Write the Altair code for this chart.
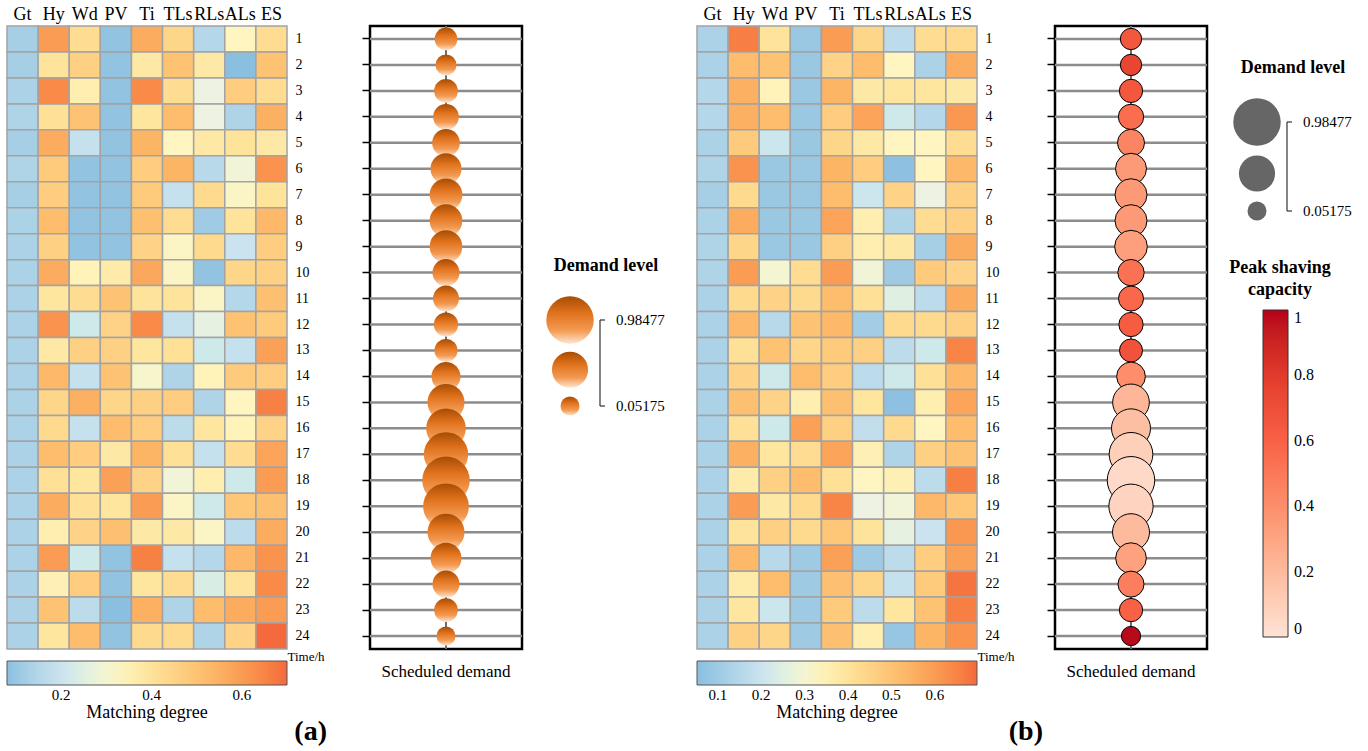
import altair as alt
import pandas as pd

SERIF = "Liberation Serif"

hours = list(range(1, 25))
sources = ["Gt", "Hy", "Wd", "PV", "Ti", "TLs", "RLs", "ALs", "ES"]

# ---------- panel (a): matching degree, one list per source (hours 1..24)
gt_a = [.12, .12, .13, .14, .12, .14, .12, .13, .13, .13, .13, .13, .13, .13, .13, .13, .13, .13, .13, .13, .13, .13, .13, .13]
hy_a = [.60, .40, .64, .41, .56, .48, .47, .52, .46, .56, .39, .62, .38, .53, .44, .43, .52, .41, .56, .36, .60, .35, .50, .39]
wd_a = [.42, .46, .36, .50, .19, .09, .09, .09, .09, .34, .42, .22, .46, .19, .55, .19, .47, .39, .41, .45, .22, .47, .17, .52]
pv_a = [.09, .09, .09, .09, .09, .09, .09, .09, .09, .37, .50, .45, .46, .50, .44, .52, .38, .59, .39, .51, .09, .09, .08, .09]
ti_a = [.56, .38, .64, .39, .54, .47, .48, .51, .45, .57, .40, .64, .39, .31, .46, .47, .54, .45, .60, .38, .66, .39, .55, .43]
tls_a = [.44, .50, .42, .52, .33, .54, .19, .42, .32, .32, .40, .19, .41, .14, .47, .17, .41, .29, .32, .38, .19, .42, .14, .43]
rls_a = [.15, .38, .27, .27, .38, .16, .43, .11, .43, .09, .32, .26, .22, .34, .14, .39, .19, .36, .22, .32, .15, .24, .52, .14]
als_a = [.33, .08, .47, .14, .40, .29, .32, .40, .20, .44, .15, .50, .19, .48, .33, .34, .42, .22, .49, .17, .53, .40, .56, .45]
es_a = [.42, .50, .42, .55, .38, .62, .40, .53, .47, .46, .51, .48, .59, .47, .66, .45, .58, .60, .51, .56, .62, .64, .60, .70]

# ---------- panel (b): matching degree
gt_b = [.13, .13, .15, .15, .13, .14, .12, .13, .14, .14, .13, .13, .13, .13, .13, .13, .13, .13, .13, .13, .13, .13, .13, .13]
hy_b = [.66, .52, .55, .55, .48, .62, .43, .56, .44, .60, .43, .53, .41, .45, .51, .41, .55, .37, .60, .40, .53, .37, .39, .46]
wd_b = [.40, .50, .34, .52, .21, .09, .09, .09, .09, .30, .45, .16, .50, .22, .45, .22, .39, .46, .38, .46, .16, .52, .21, .44]
pv_b = [.09, .09, .09, .09, .09, .09, .09, .09, .09, .42, .43, .50, .44, .52, .36, .59, .42, .52, .43, .43, .10, .10, .10, .10]
ti_b = [.60, .45, .54, .47, .44, .54, .52, .58, .46, .60, .52, .53, .48, .47, .51, .46, .58, .41, .65, .49, .59, .51, .48, .51]
tls_b = [.44, .52, .38, .58, .38, .47, .21, .36, .36, .29, .41, .11, .46, .17, .39, .18, .35, .33, .27, .40, .10, .44, .17, .36]
rls_b = [.17, .33, .39, .22, .33, .06, .45, .14, .38, .10, .25, .43, .17, .22, .06, .43, .14, .35, .29, .26, .17, .19, .39, .08]
als_b = [.42, .13, .39, .15, .33, .33, .27, .42, .12, .48, .17, .43, .22, .41, .36, .33, .46, .17, .53, .20, .47, .48, .50, .54]
es_b = [.43, .56, .38, .61, .42, .53, .46, .46, .56, .45, .56, .46, .65, .53, .58, .52, .50, .66, .49, .61, .59, .68, .66, .62]

# ---------- scheduled demand and peak shaving capacity
demand_a = [0.128, 0.091, 0.151, 0.199, 0.252, 0.347, 0.400, 0.400, 0.400, 0.233, 0.207, 0.164,
            0.135, 0.288, 0.548, 0.650, 0.840, 0.98477, 0.902, 0.548, 0.347, 0.233, 0.151, 0.05175]
demand_b = [0.098, 0.098, 0.141, 0.189, 0.233, 0.347, 0.378, 0.378, 0.400, 0.215, 0.182, 0.164,
            0.135, 0.280, 0.537, 0.623, 0.814, 0.98477, 0.840, 0.548, 0.338, 0.207, 0.141, 0.057]
peak_b = [0.65, 0.75, 0.65, 0.55, 0.45, 0.35, 0.35, 0.35, 0.33, 0.53, 0.57, 0.63,
          0.68, 0.40, 0.22, 0.18, 0.10, 0.05, 0.08, 0.20, 0.32, 0.47, 0.60, 0.98]
legend_levels = [0.98477, 0.51826, 0.05175]
series_name = ["Scheduled demand"]

ticks_a = [0.2, 0.4, 0.6]
ticks_b = [0.1, 0.2, 0.3, 0.4, 0.5, 0.6]
peak_ticks = [0, 0.2, 0.4, 0.6, 0.8, 1]

# ---------- styles
match_palette = ['#8bbfe0', '#a6cfe6', '#cbe3ef', '#eef2e2', '#fff5c0', '#fee39a',
                 '#fed083', '#fdbd6c', '#fba45a', '#f98a48', '#f46a3c']
match_stops = [0.12, 0.2, 0.27, 0.33, 0.40, 0.46, 0.52, 0.58, 0.64]
peak_palette = ['#fee3d6', '#fdbb9d', '#fc8e6c', '#f96146', '#e23a2c', '#b50019']

H = 623


def heat_df(cols, field):
    rows = []
    for s, vals in zip(sources, cols):
        for h, v in zip(hours, vals):
            rows.append({"source": s, "hour": h, field: v})
    return pd.DataFrame(rows)


def heatmap(df, field, lo, hi, ticks, tag, tag_dx):
    scale = alt.Scale(domain=[lo] + match_stops + [hi], range=match_palette, clamp=True)
    return alt.Chart(df).mark_rect(stroke='#a3a3a3', strokeWidth=1.5).encode(
        x=alt.X('source:N', sort=sources,
                axis=alt.Axis(orient='top', title=None, ticks=False, domain=False, labelAngle=0,
                              labelFont=SERIF, labelFontSize=18, labelPadding=3, labelColor='black')),
        y=alt.Y('hour:O',
                axis=alt.Axis(orient='right', title='Time/h', titleAngle=0, titleX=0, titleY=H + 7,
                              titleAlign='left', titleBaseline='middle', titleFont=SERIF,
                              titleFontSize=13, titleFontWeight='normal', titleColor='black',
                              ticks=False, domain=False, labelFont=SERIF, labelFontSize=14,
                              labelPadding=8, labelColor='black')),
        color=alt.Color(f'{field}:Q', scale=scale,
                        legend=alt.Legend(orient='none', legendX=0, legendY=H + 12,
                                          direction='horizontal', gradientLength=280,
                                          gradientThickness=24, values=ticks, format='.1f',
                                          title='Matching degree', titleOrient='bottom',
                                          titleAnchor='middle', titleFont=SERIF, titleFontSize=18,
                                          titleFontWeight='normal', titleColor='black', titlePadding=1,
                                          labelFont=SERIF, labelFontSize=15, labelColor='black',
                                          labelOffset=3, gradientStrokeColor='#555',
                                          gradientStrokeWidth=1))
    ).properties(
        width=280, height=H,
        title=alt.TitleParams(text=tag, orient='bottom', anchor='end', frame='group', dx=tag_dx,
                              dy=-8, fontSize=28, fontWeight='bold', font=SERIF, color='black'))


orange_grad = alt.LinearGradient(
    gradient='linear', x1=0, y1=0, x2=0, y2=1,
    stops=[alt.GradientStop(color='#a64c04', offset=0),
           alt.GradientStop(color='#e0721c', offset=0.35),
           alt.GradientStop(color='#f39a52', offset=0.72),
           alt.GradientStop(color='#fde6d2', offset=1)])

size_scale = alt.Scale(domain=[0.05175, 0.98477], range=[361, 2256])


def bubble_panel(demand, legend_fill, y_range, leg_x, peak=None):
    df = pd.DataFrame({'hour': hours, 'demand': demand, 'series': series_name * 24})
    if peak is not None:
        df['peak'] = peak
    base = alt.Chart(df)
    xenc = alt.X('series:N', axis=alt.Axis(title=None, ticks=False, domain=False, labelAngle=0,
                                           labelFont=SERIF, labelFontSize=17, labelPadding=14,
                                           labelColor='black'))
    yenc = alt.Y('hour:O', axis=alt.Axis(orient='left', title=None, labels=False, domain=False,
                                         ticks=True, tickSize=8, tickWidth=1.5, tickColor='black'))
    lines = base.mark_rule(color='#8c8c8c', strokeWidth=2.5).encode(y=yenc)
    vline = base.mark_rule(color='#6e6e6e', strokeWidth=1.5).encode(x=xenc)
    size = alt.Size('demand:Q', scale=size_scale, legend=None)
    if peak is None:
        bubbles = base.mark_circle(fill=orange_grad, opacity=1).encode(x=xenc, y=yenc, size=size)
    else:
        bubbles = base.mark_circle(stroke='black', strokeWidth=1, opacity=1).encode(
            x=xenc, y=yenc, size=size,
            color=alt.Color('peak:Q',
                            scale=alt.Scale(domain=[0, 0.2, 0.4, 0.6, 0.8, 1], range=peak_palette),
                            legend=alt.Legend(orient='none', legendX=208, legendY=284,
                                              direction='vertical', gradientLength=327,
                                              gradientThickness=25, values=peak_ticks, title=None,
                                              labelExpr="datum.value == 0 ? '0' : datum.value == 1 ? '1' : format(datum.value, '.1f')",
                                              labelFont=SERIF, labelFontSize=16, labelColor='black',
                                              labelOffset=6, gradientStrokeColor='#333',
                                              gradientStrokeWidth=1)))
    main = alt.layer(lines, vline, bubbles)

    # legend for demand level (drawn from the legend level values)
    leg_df = pd.DataFrame({'demand': legend_levels})
    ends_df = pd.DataFrame({'demand': [legend_levels[0], legend_levels[-1]]})
    br_df = pd.DataFrame({'top': [legend_levels[0]], 'bottom': [legend_levels[-1]]})
    title_df = pd.DataFrame({'t': ['Demand level']})
    ly = alt.Scale(type='pow', exponent=1.3, domain=[0.05175, 0.98477], range=y_range)
    leg_y = alt.Y('demand:Q', scale=ly, axis=None)
    leg_bub = alt.Chart(leg_df).mark_circle(fill=legend_fill, opacity=1).encode(
        x=alt.value(leg_x), y=leg_y, size=size)
    leg_txt = alt.Chart(ends_df).mark_text(align='left', baseline='middle', font=SERIF,
                                           fontSize=15, color='black').encode(
        x=alt.value(leg_x + 46), y=leg_y, text=alt.Text('demand:Q', format='.5f'))
    leg_br = alt.Chart(br_df).mark_rule(color='#333', strokeWidth=1.2).encode(
        x=alt.value(leg_x + 30), y=alt.Y('top:Q', scale=ly, axis=None), y2='bottom:Q')
    leg_tk = alt.Chart(ends_df).mark_rule(color='#333', strokeWidth=1.2).encode(
        x=alt.value(leg_x + 30), x2=alt.value(leg_x + 35), y=leg_y)
    leg_title = alt.Chart(title_df).mark_text(font=SERIF, fontSize=18, fontWeight='bold',
                                              color='black').encode(
        x=alt.value(leg_x + 36), y=alt.value(y_range[1] - 54), text='t:N')
    legend = alt.layer(leg_bub, leg_br, leg_tk, leg_txt, leg_title)
    layers = [main, legend]
    if peak is not None:
        cap_df = pd.DataFrame({'t': ['Peak shaving\ncapacity']})
        cap = alt.Chart(cap_df).mark_text(font=SERIF, fontSize=18, fontWeight='bold',
                                          color='black', lineBreak='\n', lineHeight=22,
                                          baseline='middle').encode(
            x=alt.value(225), y=alt.value(242), text='t:N')
        layers.append(cap)
    ch = alt.layer(*layers).resolve_scale(y='independent')
    return ch.properties(width=152, height=H,
                         view=alt.ViewBackground(stroke='black', strokeWidth=2.5))


def spacer(w):
    return alt.Chart(pd.DataFrame({'v': [0]})).mark_point(opacity=0).encode(
        x=alt.value(0), y=alt.value(0)).properties(width=w, height=H)


heat_a = heatmap(heat_df([gt_a, hy_a, wd_a, pv_a, ti_a, tls_a, rls_a, als_a, es_a], 'md_a'),
                 'md_a', 0.08, 0.70, ticks_a, '(a)', 40)
heat_b = heatmap(heat_df([gt_b, hy_b, wd_b, pv_b, ti_b, tls_b, rls_b, als_b, es_b], 'md_b'),
                 'md_b', 0.052, 0.697, ticks_b, '(b)', 66)
bub_a = bubble_panel(demand_a, orange_grad, [380, 294], 200)
bub_b = bubble_panel(demand_b, '#666666', [185, 96], 202, peak=peak_b)

chart = alt.hconcat(
    heat_a, spacer(83), bub_a, spacer(175), heat_b, spacer(78), bub_b,
    spacing=0, bounds='flush'
).resolve_scale(
    color='independent', size='independent', x='independent', y='independent'
).configure(font=SERIF).configure_view(strokeWidth=0).properties(
    padding={'left': 6, 'top': 5, 'right': 5, 'bottom': 5})

chart.save("out.html", embed_options={"renderer": "svg", "actions": False})
